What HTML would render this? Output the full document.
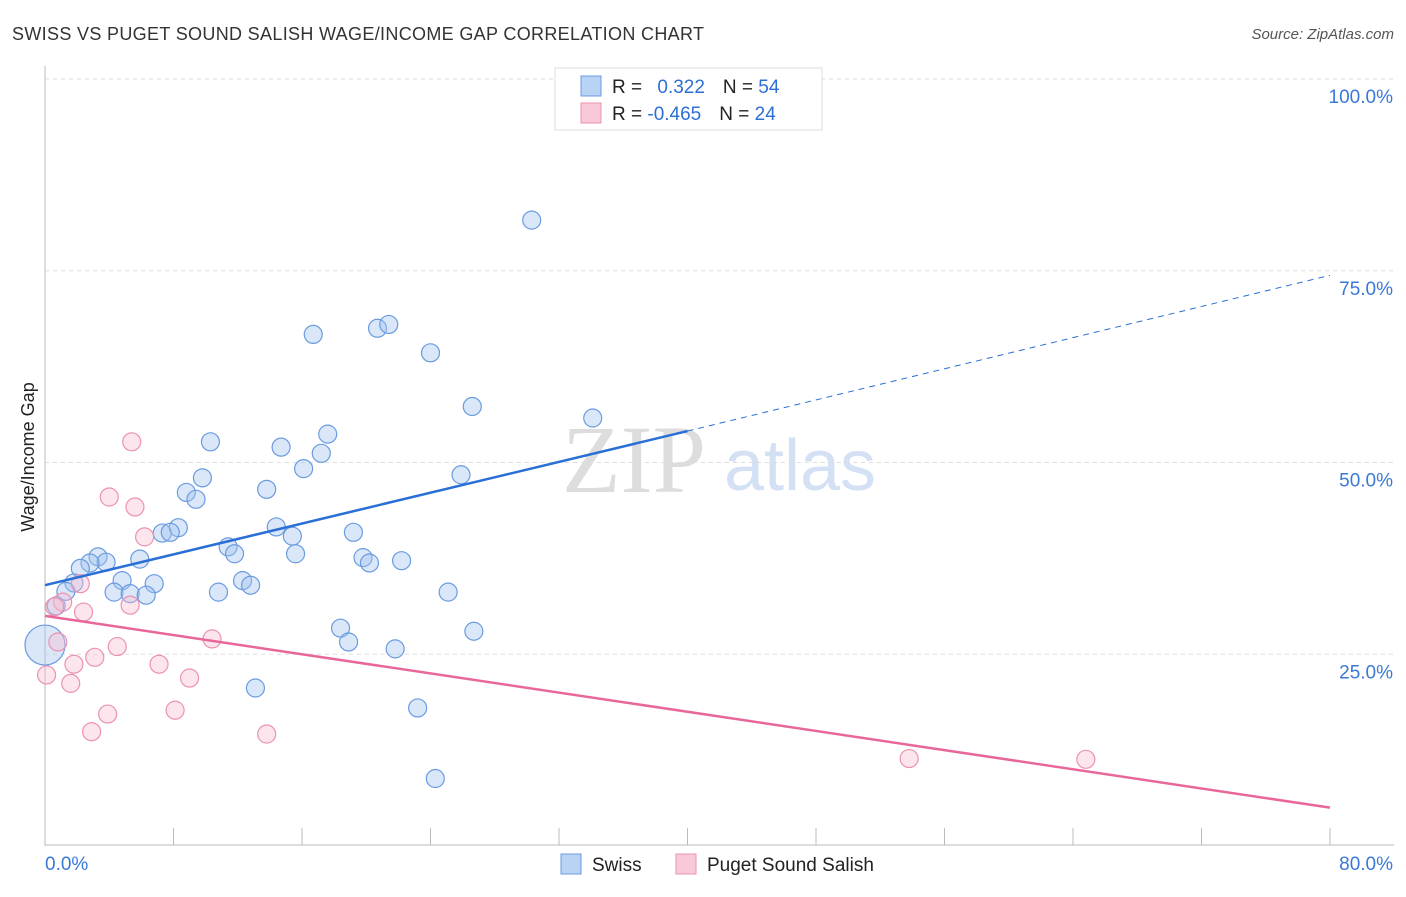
<!DOCTYPE html>
<html><head><meta charset="utf-8"><style>
body{margin:0;background:#fff;font-family:"Liberation Sans",sans-serif}
#wrap{position:relative;width:1406px;height:892px}
</style></head><body>
<div id="wrap">
<svg id="svg" width="1406" height="892" xmlns="http://www.w3.org/2000/svg">
<text x="12" y="40" font-size="18" fill="#333" textLength="692">SWISS VS PUGET SOUND SALISH WAGE/INCOME GAP CORRELATION CHART</text>
<text x="1394" y="39" font-size="15" fill="#555" font-style="italic" text-anchor="end">Source: ZipAtlas.com</text>
<text x="634" y="492" font-size="96" fill="#ddd" font-family="Liberation Serif,serif" text-anchor="middle">ZIP</text>
<text x="800" y="490" font-size="72" fill="#d4e1f5" text-anchor="middle">atlas</text>
<text transform="translate(34,457) rotate(-90)" font-size="18" fill="#222" text-anchor="middle">Wage/Income Gap</text>
<g id="grid"></g><g id="pts"></g><g id="lines"></g>
<g>
<rect x="555" y="68" width="267" height="62" fill="#fff" stroke="#ddd"/>
<rect x="581" y="76" width="20" height="20" fill="#b9d3f5" stroke="#6a9be0"/>
<rect x="581" y="103" width="20" height="20" fill="#f9c9d8" stroke="#ec92b0"/>
<text x="612" y="93" font-size="19" fill="#222">R = <tspan fill="#2d6fd4" dx="10">0.322</tspan><tspan dx="18" fill="#222">N = </tspan><tspan fill="#2d6fd4">54</tspan></text>
<text x="612" y="120" font-size="19" fill="#222">R = <tspan fill="#2d6fd4">-0.465</tspan><tspan dx="18" fill="#222">N = </tspan><tspan fill="#2d6fd4">24</tspan></text>
</g>
<g>
<rect x="561" y="854" width="20" height="20" fill="#b9d3f5" stroke="#6a9be0"/>
<text x="592" y="871" font-size="19" fill="#222">Swiss</text>
<rect x="676" y="854" width="20" height="20" fill="#f9c9d8" stroke="#ec92b0"/>
<text x="707" y="871" font-size="19" fill="#222">Puget Sound Salish</text>
</g>
</svg></div>
<script>
const xTicks=[0,80];
const yTicks=[25,50,75,100];
const swissX=[30.3,16.7,20.7,21.4,24,26.6,34.1,10.3,14.7,17.6,17.2,16.1,25.9,9.8,8.8,9.4,13.8,8.3,7.3,7.8,11.4,11.8,14.4,15.4,15.6,19.2,19.8,20.2,22.2,5.9,3.3,3.8,2.8,2.2,1.8,1.3,0.7,4.8,6.8,4.3,5.3,6.3,10.8,12.3,12.8,25.1,26.7,18.4,18.9,21.8,13.1,23.2,24.3,0];
const swissY=[81.6,66.7,67.5,68,64.3,57.3,55.8,52.7,52,53.7,51.2,49.2,48.4,48,46.1,45.2,46.5,41.5,40.8,40.9,39,38.1,41.6,40.4,38.1,40.9,37.6,36.9,37.2,37.4,37.7,37,36.9,36.2,34.3,33.2,31.3,34.6,34.2,33.1,32.9,32.7,33.1,34.6,34,33.1,28,28.4,26.6,25.7,20.6,18,8.8,26.2];
const swissR=[9,9,9,9,9,9,9,9,9,9,9,9,9,9,9,9,9,9,9,9,9,9,9,9,9,9,9,9,9,9,9,9,9,9,9,9,9,9,9,9,9,9,9,9,9,9,9,9,9,9,9,9,9,20];
const pugetX=[5.4,4.0,5.6,6.2,2.2,1.1,2.4,5.3,0.8,10.4,4.5,3.1,1.8,7.1,0.1,9.0,1.6,3.9,8.1,2.9,13.8,53.8,64.8,0.6];
const pugetY=[52.7,45.5,44.2,40.3,34.2,31.8,30.5,31.4,26.6,27,26,24.6,23.7,23.7,22.3,21.9,21.2,17.2,17.7,14.9,14.6,11.4,11.3,31.2];
const swissLine=[[0,34],[40,54.1],[80,74.4]];
const pugetLine=[[0,30],[80,5]];
const X=v=>45+v/80*1285, Y=v=>846-v/100*767;
const NS="http://www.w3.org/2000/svg";
function mk(t,a,p){const e=document.createElementNS(NS,t);for(const k in a)e.setAttribute(k,a[k]);p.appendChild(e);return e;}
const svg=document.getElementById('svg'),grid=document.getElementById('grid'),pts=document.getElementById('pts'),lines=document.getElementById('lines');
const ax=mk('line',{x1:45,y1:66,x2:45,y2:846,stroke:'#bbb'},grid);


const bx=mk('line',{x1:45,y1:845,x2:1394,y2:845,stroke:'#bbb'},grid);


for(let i=1;i<=10;i++){const px=45+i*1285/10;if(px>1394)break;const t=mk('line',{x1:px,y1:828,x2:px,y2:845,stroke:'#bbb'},grid);

}
yTicks.forEach(v=>{const g=mk('line',{x1:45,y1:Y(v),x2:1394,y2:Y(v),stroke:'#ddd','stroke-dasharray':'4,4'},grid);


const t=mk('text',{x:1393,y:Y(v)+24,'font-size':19,fill:'#3a78d8','text-anchor':'end'},svg);t.textContent=v.toFixed(1)+'%';

});
xTicks.forEach((v,i)=>{const t=mk('text',{x:i?1393:45,y:870,'font-size':19,fill:'#3a78d8','text-anchor':i?'end':'start'},svg);t.textContent=v.toFixed(1)+'%';

});
swissX.forEach((v,i)=>{const c=mk('circle',{cx:X(v),cy:Y(swissY[i]),r:swissR[i],fill:'rgba(160,195,240,0.4)',stroke:'#6a9be0','stroke-width':1.2},pts);

});
pugetX.forEach((v,i)=>{const c=mk('circle',{cx:X(v),cy:Y(pugetY[i]),r:9,fill:'rgba(248,190,210,0.4)',stroke:'#ec92b0','stroke-width':1.2},pts);

});
let l=mk('line',{x1:X(swissLine[0][0]),y1:Y(swissLine[0][1]),x2:X(swissLine[1][0]),y2:Y(swissLine[1][1]),stroke:'#2a6fd6','stroke-width':2.5},lines);


l=mk('line',{x1:X(swissLine[1][0]),y1:Y(swissLine[1][1]),x2:X(swissLine[2][0]),y2:Y(swissLine[2][1]),stroke:'#2a6fd6','stroke-width':1,'stroke-dasharray':'6,5'},lines);


l=mk('line',{x1:X(pugetLine[0][0]),y1:Y(pugetLine[0][1]),x2:X(pugetLine[1][0]),y2:Y(pugetLine[1][1]),stroke:'#e8679a','stroke-width':2.5},lines);


</script>
</body></html>
